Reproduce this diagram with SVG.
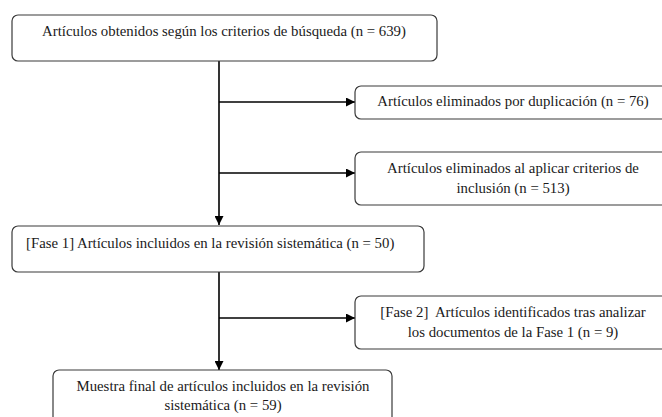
<svg xmlns="http://www.w3.org/2000/svg" width="662" height="417" viewBox="0 0 662 417">
<style>
.box{fill:#fff;stroke:#3a3a3a;stroke-width:1.2}
.t{font-family:'Liberation Serif','Times New Roman',Times,serif;font-size:14.8px;fill:#1a1a1a}
.c{text-anchor:middle}
.con{stroke:#000;stroke-width:1.6;fill:none}
</style>
<defs>
<marker id="ah" viewBox="0 0 10 10" refX="10" refY="5" markerWidth="9" markerHeight="9" markerUnits="userSpaceOnUse" orient="auto">
<path d="M0,0 L10,5 L0,10 Z" fill="#000"/>
</marker>
</defs>
<rect width="662" height="417" fill="#fff"/>
<g id="connectors">
<line class="con" x1="219" y1="61" x2="219" y2="225" marker-end="url(#ah)"/>
<line class="con" x1="219" y1="102" x2="355" y2="102" marker-end="url(#ah)"/>
<line class="con" x1="219" y1="173" x2="355" y2="173" marker-end="url(#ah)"/>
<line class="con" x1="219" y1="272" x2="219" y2="370" marker-end="url(#ah)"/>
<line class="con" x1="219" y1="318" x2="355" y2="318" marker-end="url(#ah)"/>
</g>
<g id="n1">
<rect class="box" x="12" y="15" width="425" height="46" rx="6"/>
<text class="t c" font-family="Liberation Serif, serif" x="224" y="36">Artículos obtenidos según los criterios de búsqueda (n = 639)</text>
</g>
<g id="n2">
<rect class="box" x="355" y="86" width="317" height="33" rx="6"/>
<text class="t c" x="513" y="106">Artículos eliminados por duplicación (n = 76)</text>
</g>
<g id="n3">
<rect class="box" x="355" y="152" width="317" height="53" rx="6"/>
<text class="t c" x="513" y="173">Artículos eliminados al aplicar criterios de</text>
<text class="t c" x="513" y="193">inclusión (n = 513)</text>
</g>
<g id="n4">
<rect class="box" x="12" y="226" width="412" height="46" rx="6"/>
<text class="t" x="26" y="248">[Fase 1] Artículos incluidos en la revisión sistemática (n = 50)</text>
</g>
<g id="n5">
<rect class="box" x="355" y="296" width="317" height="53" rx="6"/>
<text class="t c" x="513" y="317" xml:space="preserve">[Fase 2]  Artículos identificados tras analizar</text>
<text class="t c" x="513" y="337">los documentos de la Fase 1 (n = 9)</text>
</g>
<g id="n6">
<rect class="box" x="53" y="370" width="339" height="60" rx="6"/>
<text class="t c" x="223" y="391">Muestra final de artículos incluidos en la revisión</text>
<text class="t c" x="223" y="410">sistemática (n = 59)</text>
</g>
</svg>
